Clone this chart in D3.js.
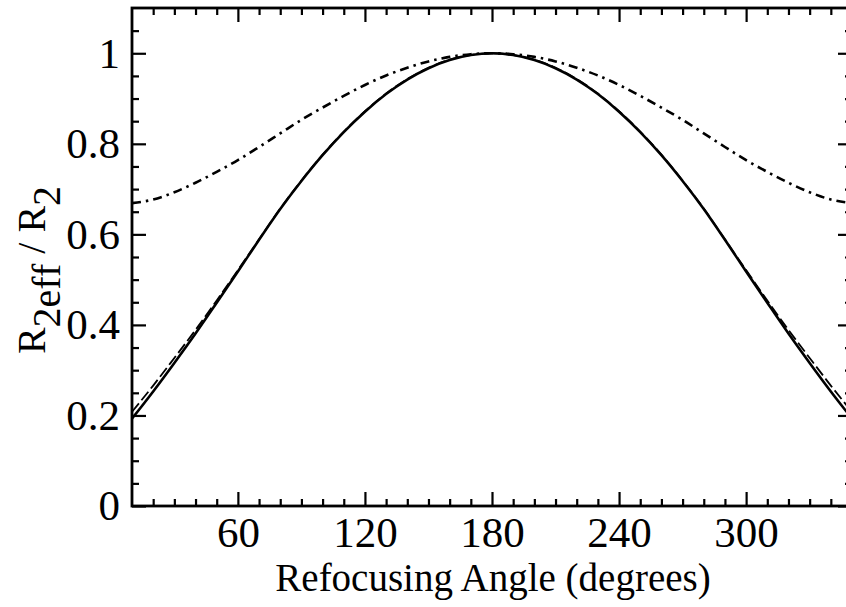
<!DOCTYPE html>
<html>
<head>
<meta charset="utf-8">
<script src="https://cdn.jsdelivr.net/npm/d3@7"></script>
<style>
  html, body { margin: 0; padding: 0; background: #fff; }
  svg { display: block; }
  text { font-family: "Liberation Serif", "Times New Roman", serif; fill: #000; }
</style>
</head>
<body>
<svg id="chart" width="846" height="607"></svg>
<script>
// ---- data ----
const angles = [10,20,30,40,50,60,70,80,90,100,110,120,130,140,150,160,170,180,
                190,200,210,220,230,240,250,260,270,280,290,300,310,320,330,340,350];
const solidValues = [0.193,0.253,0.316,0.381,0.449,0.518,0.588,0.656,0.718,0.775,0.826,0.871,0.910,0.942,0.967,0.985,0.996,1.000,
                     0.996,0.985,0.967,0.942,0.910,0.871,0.826,0.775,0.718,0.656,0.588,0.518,0.449,0.381,0.316,0.253,0.193];
const dashedValues = [0.208,0.266,0.327,0.389,0.454,0.521,0.589,0.657,0.719,0.776,0.827,0.872,0.911,0.943,0.968,0.986,0.996,1.000,
                      0.996,0.986,0.968,0.943,0.911,0.872,0.827,0.776,0.719,0.657,0.589,0.521,0.454,0.389,0.327,0.266,0.208];
const dashDotValues = [0.669,0.677,0.693,0.714,0.738,0.764,0.793,0.823,0.853,0.880,0.906,0.930,0.951,0.968,0.982,0.992,0.998,1.000,
                       0.998,0.992,0.982,0.968,0.951,0.930,0.906,0.880,0.853,0.823,0.793,0.764,0.738,0.714,0.693,0.677,0.669];
const xMajorTicks = [60,120,180,240,300];
const xMinorTicks = [20,30,40,50,70,80,90,100,110,130,140,150,160,170,190,200,210,220,230,250,260,270,280,290,310,320,330,340];
const yMajorTicks = [0,0.2,0.4,0.6,0.8,1];
const yMinorTicks = [0.05,0.1,0.15,0.25,0.3,0.35,0.45,0.5,0.55,0.65,0.7,0.75,0.85,0.9,0.95,1.05];
const xLabel = "Refocusing Angle (degrees)";

(function () {
// ---- layout ----
const svg = d3.select("#chart");
const pL = 132, pR = 852, pT = 8, pB = 506;
const x = d3.scaleLinear().domain([10, 350]).range([pL, pR]);
const y = d3.scaleLinear().domain([0, 1.1]).range([pB, pT]);

const fmtY = d => (d === 0 ? "0" : d === 1 ? "1" : d3.format(".1f")(d));

function styleAxis(g) {
  g.select(".domain").remove();
  g.selectAll(".tick line").attr("stroke", "#000").attr("stroke-width", 2.2);
  g.selectAll("text").style("font-size", "43px").attr("fill", "#000");
}

// bottom major (labelled)
svg.append("g").attr("transform", `translate(0,${pB})`)
  .call(d3.axisBottom(x).tickValues(xMajorTicks).tickSize(-14).tickPadding(10).tickFormat(d3.format("d")))
  .call(styleAxis);
svg.append("g").attr("transform", `translate(0,${pB})`)
  .call(d3.axisBottom(x).tickValues(xMinorTicks).tickSize(-7).tickFormat(""))
  .call(styleAxis);
// top
svg.append("g").attr("transform", `translate(0,${pT})`)
  .call(d3.axisTop(x).tickValues(xMajorTicks).tickSize(-14).tickFormat(""))
  .call(styleAxis);
svg.append("g").attr("transform", `translate(0,${pT})`)
  .call(d3.axisTop(x).tickValues(xMinorTicks).tickSize(-7).tickFormat(""))
  .call(styleAxis);
// left
svg.append("g").attr("transform", `translate(${pL},0)`)
  .call(d3.axisLeft(y).tickValues(yMajorTicks).tickSize(-14).tickPadding(12).tickFormat(fmtY))
  .call(styleAxis);
svg.append("g").attr("transform", `translate(${pL},0)`)
  .call(d3.axisLeft(y).tickValues(yMinorTicks).tickSize(-7).tickFormat(""))
  .call(styleAxis);
// right
svg.append("g").attr("transform", `translate(${pR},0)`)
  .call(d3.axisRight(y).tickValues(yMajorTicks).tickSize(-14).tickFormat(""))
  .call(styleAxis);
svg.append("g").attr("transform", `translate(${pR},0)`)
  .call(d3.axisRight(y).tickValues(yMinorTicks).tickSize(-7).tickFormat(""))
  .call(styleAxis);

// ---- curves ----
const line = vals => d3.line()
  .x((d, i) => x(angles[i]))
  .y(d => y(d))
  .curve(d3.curveMonotoneX)(vals);

svg.append("path").attr("d", line(dashDotValues))
  .attr("fill", "none").attr("stroke", "#000").attr("stroke-width", 2.6)
  .attr("stroke-dasharray", "9,5,2.5,5");
svg.append("path").attr("d", line(dashedValues))
  .attr("fill", "none").attr("stroke", "#000").attr("stroke-width", 1.8)
  .attr("stroke-dasharray", "11,4");
svg.append("path").attr("d", line(solidValues))
  .attr("fill", "none").attr("stroke", "#000").attr("stroke-width", 2.6);

// frame
svg.append("rect").attr("x", pL).attr("y", pT)
  .attr("width", pR - pL).attr("height", pB - pT)
  .attr("fill", "none").attr("stroke", "#000").attr("stroke-width", 2.8);

// ---- axis titles ----
svg.append("text").attr("x", 493).attr("y", 591)
  .attr("text-anchor", "middle").style("font-size", "39px").text(xLabel);

const yt = svg.append("text")
  .attr("transform", "translate(45,270) rotate(-90)")
  .attr("text-anchor", "middle").style("font-size", "40px");
yt.append("tspan").text("R");
yt.append("tspan").attr("dy", 15).text("2eff");
yt.append("tspan").attr("dy", -15).text(" / R");
yt.append("tspan").attr("dy", 15).text("2");
})();
</script>
</body>
</html>
